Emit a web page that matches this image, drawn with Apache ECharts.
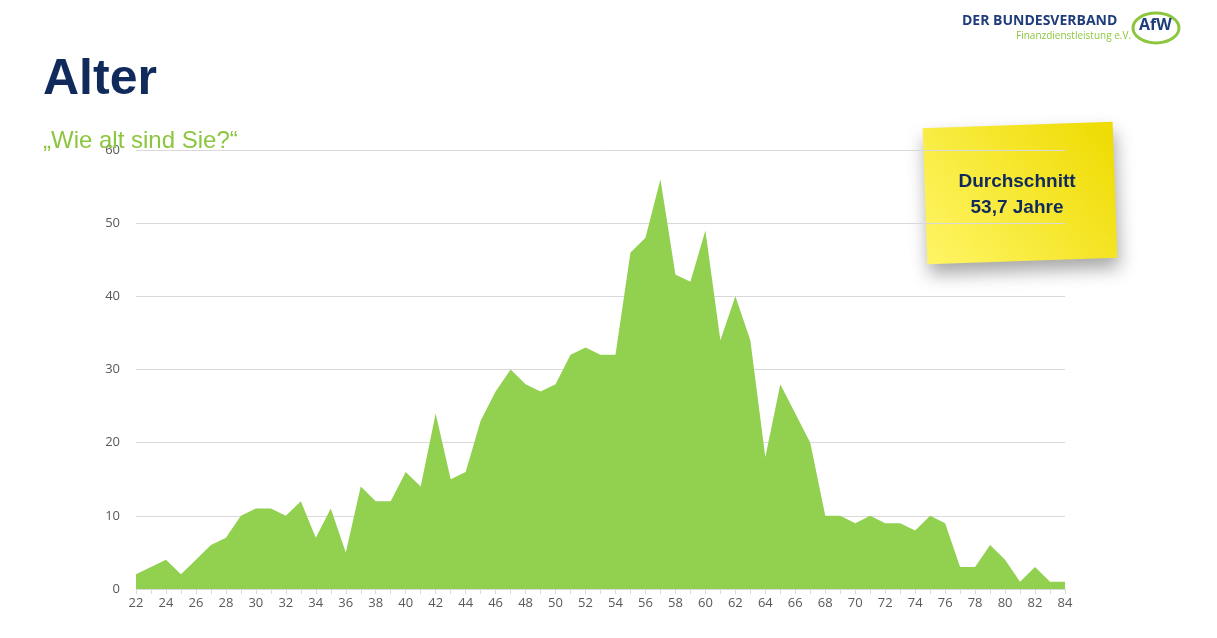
<!DOCTYPE html>
<html><head><meta charset="utf-8">
<script src="https://cdn.jsdelivr.net/npm/echarts@6/dist/echarts.min.js"></script>
<style>html,body{margin:0;padding:0;background:#fff}#c{width:1217px;height:638px}</style>
</head><body><div id="c"></div>
<script>
const ages = [];
for (let a = 22; a <= 84; a++) ages.push(String(a));
const counts = [2,3,4,2,4,6,7,10,11,11,10,12,7,11,5,14,12,12,16,14,24,15,16,23,27,30,28,27,28,32,33,32,32,46,48,56,43,42,49,34,40,34,18,28,24,20,10,10,9,10,9,9,8,10,9,3,3,6,4,1,3,1,1];
const chart = echarts.init(document.getElementById('c'));
chart.setOption({
  animation:false,
  grid:{left:136,right:152,top:150,bottom:49},
  title:[
    {text:'Alter',left:38,top:50,textStyle:{fontFamily:'Liberation Sans',fontSize:50,fontWeight:'bold',color:'#112a5c'}},
    {text:'„Wie alt sind Sie?“',left:38,top:124,textStyle:{fontFamily:'Liberation Sans',fontSize:24,fontWeight:'normal',color:'#8cc63f'}}
  ],
  xAxis:{type:'category',data:ages,boundaryGap:false,
    axisLine:{lineStyle:{color:'#d9d9d9'}},
    axisTick:{show:true,interval:0,length:5,lineStyle:{color:'#d9d9d9'}},
    axisLabel:{interval:1,color:'#595959',fontSize:13,fontFamily:'Open Sans',margin:8}},
  yAxis:{type:'value',min:0,max:60,interval:10,
    axisLine:{show:false},axisTick:{show:false},
    splitLine:{lineStyle:{color:'#d9d9d9'}},
    axisLabel:{color:'#595959',fontSize:13,fontFamily:'Open Sans',margin:16}},
  series:[{type:'line',data:counts,symbol:'none',lineStyle:{width:0},areaStyle:{color:'#92d050',opacity:1}}],
  graphic:[
    {type:'group',x:1020,y:193,rotation:0.035,children:[
      {type:'rect',shape:{x:-95,y:-68,width:190,height:136},
        style:{fill:new echarts.graphic.LinearGradient(1,0,0,1,[{offset:0,color:'#eedb00'},{offset:1,color:'#fff566'}]),
          shadowBlur:18,shadowColor:'rgba(0,0,0,0.35)',shadowOffsetX:2,shadowOffsetY:10}}
    ]},
    {type:'text',x:1017,y:195,style:{text:'Durchschnitt\n53,7 Jahre',align:'center',verticalAlign:'middle',
        font:'bold 19px "Liberation Sans"',fill:'#112a5c',lineHeight:26}},
    {type:'text',left:962,top:14,style:{text:'DER BUNDESVERBAND',font:'bold 14px "Open Sans"',fill:'#1f3d7a'}},
    {type:'text',left:1016,top:31,style:{text:'Finanzdienstleistung e.V.',font:'10px "Open Sans"',fill:'#8cc63f'}},
    {type:'ellipse',shape:{cx:1156,cy:28,rx:23,ry:15},style:{fill:'none',stroke:'#8cc63f',lineWidth:3}},
    {type:'text',left:1139,top:17,style:{text:'AfW',font:'bold 16px "Open Sans"',fill:'#1f3d7a'}}
  ]
});
</script></body></html>
